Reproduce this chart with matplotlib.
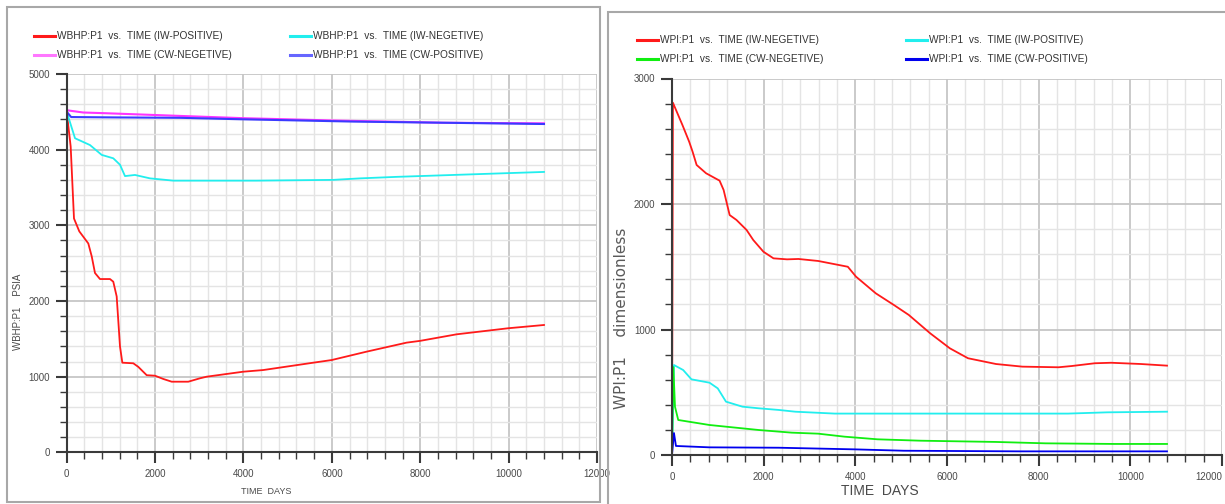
"""
plot.py — 井底流压 / 采液指数 对比图（两幅并排）
左：WBHP:P1 vs. TIME，右：WPI:P1 vs. TIME
"""

import matplotlib
matplotlib.use("Agg")
import matplotlib.pyplot as plt
from matplotlib.lines import Line2D
from matplotlib.patches import Rectangle
from matplotlib.ticker import MultipleLocator

# ── 数据：左图 WBHP (PSIA) ─────────────────────────────────
wbhp_iw_pos_days = [0, 90, 165, 285, 489, 566, 640, 753, 980, 1054, 1131, 1206, 1259,
                    1507, 1620, 1810, 1998, 2186, 2376, 2751, 3016, 3167, 3995, 4448,
                    5579, 5995, 6787, 7692, 7993, 8824, 9991, 10800]
wbhp_iw_pos = [4500, 4040, 3090, 2920, 2760, 2590, 2370, 2290, 2290, 2255, 2060, 1400, 1185,
               1177, 1130, 1020, 1013, 970, 934, 934, 979, 1000, 1066, 1088,
               1185, 1220, 1331, 1450, 1473, 1560, 1640, 1683]

wbhp_iw_neg_days = [0, 188, 527, 792, 1054, 1206, 1319, 1545, 1885, 2412, 4300, 6030,
                    6640, 7470, 8740, 10030, 10800]
wbhp_iw_neg = [4500, 4150, 4060, 3930, 3885, 3800, 3650, 3665, 3620, 3590, 3590, 3600,
               3620, 3640, 3665, 3690, 3705]

wbhp_cw_neg_days = [0, 375, 905, 2563, 4000, 6000, 8500, 10800]
wbhp_cw_neg = [4520, 4490, 4480, 4445, 4415, 4385, 4355, 4347]

wbhp_cw_pos_days = [0, 100, 1131, 2563, 4000, 6500, 10800]
wbhp_cw_pos = [4500, 4430, 4425, 4420, 4400, 4370, 4338]

# ── 数据：右图 WPI (dimensionless) ─────────────────────────
wpi_iw_neg_days = [0, 20, 228, 375, 449, 537, 743, 1038, 1126, 1258, 1406, 1627, 1773,
                   1994, 2214, 2510, 2759, 3190, 3836, 4015, 4447, 4842, 5166, 5632,
                   6063, 6458, 7069, 7644, 8433, 8721, 9224, 9584, 10230, 10800]
wpi_iw_neg = [0, 2807, 2629, 2496, 2417, 2311, 2245, 2186, 2112, 1912, 1873, 1793, 1713,
              1620, 1567, 1559, 1562, 1546, 1500, 1421, 1288, 1195, 1116, 970,
              850, 771, 725, 704, 699, 709, 731, 735, 725, 712]

wpi_iw_pos_days = [0, 28, 43, 244, 424, 819, 998, 1178, 1537, 1897, 2328, 2690, 3550,
                   8640, 9500, 10800]
wpi_iw_pos = [0, 465, 717, 677, 603, 576, 531, 425, 385, 372, 359, 345, 330,
              330, 340, 345]

wpi_cw_neg_days = [0, 30, 65, 136, 819, 1897, 2614, 3190, 3765, 4483, 5416, 7069, 8147,
                   9655, 10800]
wpi_cw_neg = [0, 700, 385, 279, 239, 199, 178, 170, 146, 125, 114, 104, 93, 88, 88]

wpi_cw_pos_days = [0, 43, 86, 819, 2328, 3980, 5058, 7608, 10800]
wpi_cw_pos = [0, 175, 72, 61, 58, 45, 34, 29, 29]

x_ticks = [0, 2000, 4000, 6000, 8000, 10000, 12000]

# ── 样式 ───────────────────────────────────────────────────
W, H = 1225, 504
FONT = ["Liberation Sans", "DejaVu Sans"]
TEXT_COLOR = "#4a4a4a"
TICK_COLOR = "#3a3a3a"
FRAME_COLOR = "#a8a8a8"
RED, CYAN, MAGENTA, BLUE_L = "#ff1a1a", "#22eeee", "#ff33ff", "#3a3aff"
GREEN, BLUE = "#11ee11", "#0000ee"


def fx(px):
    return px / W


def fy(py):
    return 1 - py / H


def style_axes(ax, ymax, ymajor):
    ax.set_xlim(0, 12000)
    ax.set_ylim(0, ymax)
    ax.set_xticks(x_ticks)
    ax.set_xticklabels([str(t) for t in x_ticks])
    ax.xaxis.set_minor_locator(MultipleLocator(400))
    ax.yaxis.set_major_locator(MultipleLocator(ymajor))
    ax.yaxis.set_minor_locator(MultipleLocator(200))
    ax.set_axisbelow(True)
    ax.grid(which="minor", color="#e4e4e4", lw=1.0)
    ax.grid(which="major", color="#c6c6c6", lw=1.3)
    for s in ("top", "right"):
        ax.spines[s].set_visible(False)
    for s in ("left", "bottom"):
        ax.spines[s].set_color(TICK_COLOR)
        ax.spines[s].set_linewidth(1.5)
    ax.tick_params(which="major", direction="out", length=8, width=1.5,
                   color=TICK_COLOR, labelsize=7, labelcolor=TEXT_COLOR, pad=4)
    ax.tick_params(which="minor", direction="out", length=5, width=1.0, color=TICK_COLOR)
    for lab in ax.get_xticklabels() + ax.get_yticklabels():
        lab.set_family(FONT)


def legend_entry(fig, x_line, y, color, label):
    fig.add_artist(Line2D([fx(x_line), fx(x_line + 21)], [fy(y), fy(y)],
                          color=color, lw=2.2, transform=fig.transFigure))
    fig.text(fx(x_line + 23), fy(y), label, ha="left", va="center",
             fontsize=7.3, family=FONT, color="#333333")


fig = plt.figure(figsize=(W / 100, H / 100), dpi=100, facecolor="white")

# 外框
fig.add_artist(Rectangle((fx(7), fy(502)), fx(600 - 7), (502 - 7) / H, fill=False,
                         ec=FRAME_COLOR, lw=1.5, transform=fig.transFigure))
fig.add_artist(Rectangle((fx(608), fy(540)), fx(700), (540 - 12) / H, fill=False,
                         ec=FRAME_COLOR, lw=1.5, transform=fig.transFigure))

# ── 左图 ──
ax1 = fig.add_axes([fx(66.7), fy(452.4), fx(597 - 66.7), (452.4 - 73.9) / H])
ax1.plot(wbhp_iw_pos_days, wbhp_iw_pos, color=RED, lw=1.3)
ax1.plot(wbhp_iw_neg_days, wbhp_iw_neg, color=CYAN, lw=1.3)
ax1.plot(wbhp_cw_neg_days, wbhp_cw_neg, color=MAGENTA, lw=1.5)
ax1.plot(wbhp_cw_pos_days, wbhp_cw_pos, color=BLUE_L, lw=1.5)
style_axes(ax1, 5000, 1000)

fig.text(fx(266), fy(492), "TIME  DAYS", ha="center", va="center",
         fontsize=6.5, family=FONT, color=TEXT_COLOR)
fig.text(fx(18), fy(312), "WBHP:P1    PSIA", ha="center", va="center", rotation=90,
         fontsize=7, family=FONT, color=TEXT_COLOR)

legend_entry(fig, 34, 36, RED, "WBHP:P1  vs.  TIME (IW-POSITIVE)")
legend_entry(fig, 34, 55, "#ff77ff", "WBHP:P1  vs.  TIME (CW-NEGETIVE)")
legend_entry(fig, 290, 36, CYAN, "WBHP:P1  vs.  TIME (IW-NEGETIVE)")
legend_entry(fig, 290, 55, "#6666ff", "WBHP:P1  vs.  TIME (CW-POSITIVE)")

# ── 右图 ──
ax2 = fig.add_axes([fx(672), fy(455), fx(1222 - 672), (455 - 78.5) / H])
ax2.plot(wpi_iw_neg_days, wpi_iw_neg, color=RED, lw=1.3)
ax2.plot(wpi_iw_pos_days, wpi_iw_pos, color=CYAN, lw=1.3)
ax2.plot(wpi_cw_neg_days, wpi_cw_neg, color=GREEN, lw=1.3)
ax2.plot(wpi_cw_pos_days, wpi_cw_pos, color=BLUE, lw=1.3)
style_axes(ax2, 3000, 1000)
ax2.get_xticklabels()[-1].set_horizontalalignment("right")

fig.text(fx(880), fy(491), "TIME  DAYS", ha="center", va="center",
         fontsize=10, family=FONT, color=TEXT_COLOR)
fig.text(fx(622), fy(318), "WPI:P1    dimensionless", ha="center", va="center",
         rotation=90, fontsize=11, family="DejaVu Sans", color="#5a5a5a")

legend_entry(fig, 637, 40, RED, "WPI:P1  vs.  TIME (IW-NEGETIVE)")
legend_entry(fig, 637, 59, GREEN, "WPI:P1  vs.  TIME (CW-NEGETIVE)")
legend_entry(fig, 906, 40, CYAN, "WPI:P1  vs.  TIME (IW-POSITIVE)")
legend_entry(fig, 906, 59, BLUE, "WPI:P1  vs.  TIME (CW-POSITIVE)")

fig.savefig("out.png", dpi=100, facecolor="white")
plt.close(fig)
